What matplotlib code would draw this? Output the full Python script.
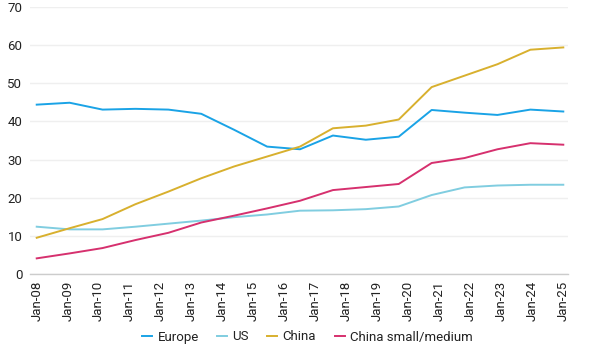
import numpy as np
import matplotlib
matplotlib.use("Agg")
import matplotlib.pyplot as plt

plt.rcParams['font.family'] = ['Roboto', 'DejaVu Sans']

tick_labels = ["Jan-08", "Jan-09", "Jan-10", "Jan-11", "Jan-12", "Jan-13", "Jan-14",
               "Jan-15", "Jan-16", "Jan-17", "Jan-18", "Jan-19", "Jan-20", "Jan-21",
               "Jan-22", "Jan-23", "Jan-24", "Jan-25"]

europe = [44.4, 44.9, 43.1, 43.3, 43.1, 42.0, 37.8, 33.4, 32.7, 36.3, 35.2, 36.0,
          43.0, 42.3, 41.7, 43.1, 42.6]
us = [12.4, 11.7, 11.7, 12.4, 13.2, 14.0, 14.9, 15.6, 16.6, 16.7, 17.0, 17.7,
      20.7, 22.7, 23.2, 23.4, 23.4]
china = [9.5, 12.0, 14.4, 18.3, 21.6, 25.1, 28.2, 30.8, 33.4, 38.2, 38.9, 40.5,
         49.0, 52.0, 55.0, 58.8, 59.4]
china_sm = [4.1, 5.4, 6.8, 8.9, 10.8, 13.5, 15.3, 17.2, 19.2, 22.0, 22.8, 23.6,
            29.1, 30.4, 32.7, 34.3, 33.9]

series = [("Europe", europe, "#1aa3e6"),
          ("US", us, "#80cde0"),
          ("China", china, "#d8b02e"),
          ("China small/medium", china_sm, "#d6306e")]

fig = plt.figure(figsize=(5.89, 3.53), dpi=100)
ax = fig.add_axes([30/589, 1-274/353, (568-30)/589, (274-7)/353])

x = np.arange(len(europe))
for name, vals, col in series:
    ax.plot(x, vals, color=col, lw=1.4, label=name, solid_joinstyle='round')

n = len(europe) - 1
ax.set_xticks(np.linspace(0, n, len(tick_labels)))
ax.set_xticklabels(tick_labels, rotation=90, fontsize=9.5, color="#222222")
ax.set_xlim(-0.204, n + 0.143)
ax.set_ylim(0, 70)
ax.set_yticks(np.arange(0, 71, 10))
ax.tick_params(axis='y', length=0, pad=5.5, labelsize=9.5, labelcolor="#222222")
ax.tick_params(axis='x', length=0, pad=5)
ax.grid(axis='y', color="#efefef", lw=1)
ax.set_axisbelow(True)
for s in ["top", "right", "left"]:
    ax.spines[s].set_visible(False)
ax.spines["bottom"].set_color("#cccccc")
ax.spines["bottom"].set_linewidth(1)

fig.legend(loc="center", bbox_to_anchor=(0.522, 1-337/353), ncol=4, frameon=False,
           fontsize=9.5, handlelength=0.76, handletextpad=0.4, columnspacing=1.4,
           labelcolor="#222222")

fig.savefig("out.png", dpi=100)
